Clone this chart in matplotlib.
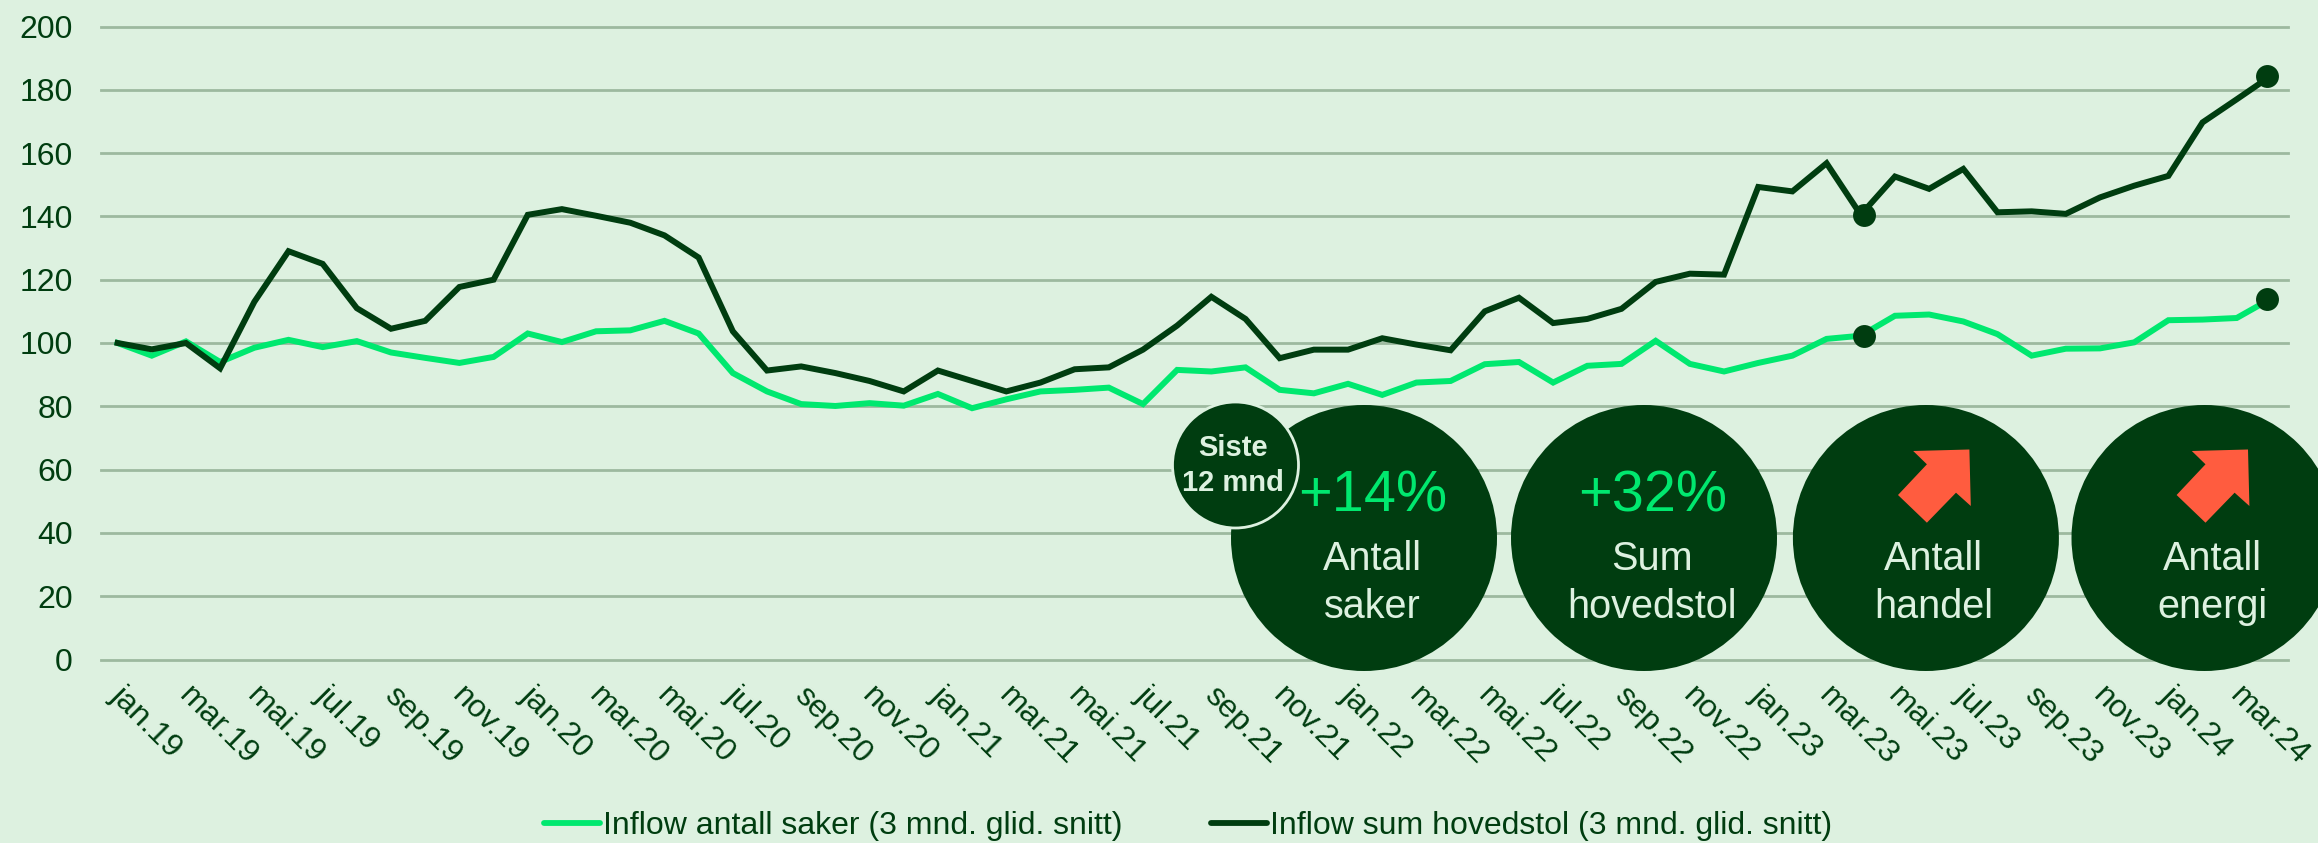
import matplotlib
matplotlib.use('Agg')
import matplotlib.pyplot as plt
from matplotlib.patches import Circle, Polygon
from matplotlib.transforms import ScaledTranslation

plt.rcParams['font.family'] = ['Liberation Sans', 'DejaVu Sans']

BG = '#DDF1E0'
DARK = '#003D10'
LIGHT = '#00E86F'
GRID = '#9DB99F'
ARROW = '#FF5C3F'

months = ['jan', 'feb', 'mar', 'apr', 'mai', 'jun', 'jul', 'aug', 'sep', 'okt', 'nov', 'des']
years = ['19', '20', '21', '22', '23', '24']
dates = [m + '.' + y for y in years for m in months][:64]

antall_saker = [100, 96, 100.5, 94, 98.5, 101, 98.7, 100.6, 97, 95.3, 93.7, 95.6,
                103, 100.3, 103.7, 104, 107, 103, 90.5, 84.7, 80.7, 80.1, 81, 80.2,
                83.9, 79.4, 82.2, 84.7, 85.2, 85.9, 80.7, 91.5, 91, 92.3, 85.2, 84.1,
                87.1, 83.6, 87.5, 88, 93.3, 94, 87.5, 92.8, 93.4, 100.7, 93.4, 91,
                93.7, 96, 101.3, 102.3, 108.6, 109, 106.8, 102.8, 96, 98.2, 98.3, 100.2,
                107.2, 107.4, 107.9, 114]
sum_hovedstol = [100, 98, 100, 92, 113, 129, 125, 111, 104.5, 107, 117.7, 120,
                 140.5, 142.3, 140.2, 138, 134, 127, 103.7, 91.3, 92.6, 90.5, 88, 84.7,
                 91.3, 88, 84.7, 87.5, 91.7, 92.3, 97.9, 105.5, 114.6, 107.6, 95.2, 97.9,
                 97.9, 101.5, 99.5, 97.7, 110, 114.3, 106.3, 107.6, 110.8, 119.3, 121.9, 121.6,
                 149.3, 147.9, 156.8, 140.5, 152.6, 148.7, 155, 141.3, 141.6, 140.8, 146, 149.7,
                 152.8, 169.7, 177, 184.4]
marker_idx = [51, 63]
# the dots sit a little off the month centres in the original
marker_x = [51.1, 62.88]

yticks = list(range(0, 201, 20))
badges = [('+14%', 'Antall\nsaker'), ('+32%', 'Sum\nhovedstol'),
          (None, 'Antall\nhandel'), (None, 'Antall\nenergi')]

W, H = 2318, 843
fig = plt.figure(figsize=(W / 100, H / 100), dpi=100, facecolor=BG)
ax = fig.add_axes([100.5 / W, 1 - 659.5 / H, (2288 - 100.5) / W, (659.5 - 26.5) / H], facecolor=BG)

x = list(range(len(dates)))
l1, = ax.plot(x, antall_saker, color=LIGHT, lw=4.3, solid_joinstyle='miter', label='Inflow antall saker (3 mnd. glid. snitt)')
l2, = ax.plot(x, sum_hovedstol, color=DARK, lw=4.3, solid_joinstyle='miter', label='Inflow sum hovedstol (3 mnd. glid. snitt)')
ax.plot(marker_x, [antall_saker[i] for i in marker_idx], 'o', color=DARK, ms=16.5, mew=0, clip_on=False)
ax.plot(marker_x, [sum_hovedstol[i] for i in marker_idx], 'o', color=DARK, ms=16.5, mew=0, clip_on=False)

ax.set_xlim(-0.5, 63.5)
ax.set_ylim(0, 200)
ax.set_yticks(yticks)
ax.set_xticks(x[::2])
ax.set_xticklabels(dates[::2], rotation=-45, ha='left', va='top', rotation_mode='anchor')
ax.tick_params(axis='both', length=0, labelcolor=DARK)
ax.tick_params(axis='x', pad=15, labelsize=23)
ax.tick_params(axis='y', pad=20, labelsize=23)
ax.grid(axis='y', color=GRID, lw=2, clip_on=False)
ax.set_axisbelow(True)
for s in ax.spines.values():
    s.set_visible(False)
shift = ScaledTranslation(8 / 100, 0, fig.dpi_scale_trans)
for lab in ax.get_xticklabels():
    lab.set_transform(lab.get_transform() + shift)

fig.legend(handles=[l1, l2], loc='center', bbox_to_anchor=(1188 / W, 1 - 826 / H), ncol=2, frameon=False,
           fontsize=23, labelcolor=DARK, handlelength=1.78, handletextpad=0.09, columnspacing=2.75,
           borderpad=0, borderaxespad=0)
for h in fig.legends[0].get_lines():
    h.set_linewidth(4.2)
    h.set_solid_capstyle('round')

# overlay in pixel coordinates for the badges
ov = fig.add_axes([0, 0, 1, 1], facecolor='none')
ov.set_xlim(0, W)
ov.set_ylim(H, 0)
ov.axis('off')

arrow_shape = [(-12.7, 451), (43.5, 449.5), (44.9, 506), (30.1, 492.7), (1, 522.7), (-27.9, 495), (1, 464.3)]
centers = [1364, 1644, 1925.9, 2204.5]
for cx, (pct, name) in zip(centers, badges):
    ov.add_patch(Circle((cx, 538), 133, color=DARK, lw=0))
    if pct:
        ov.text(cx + 9, 511.7, pct, color=LIGHT, fontsize=41.5, ha='center', va='baseline')
    else:
        ov.add_patch(Polygon([(cx + dx, y) for dx, y in arrow_shape], color=ARROW, lw=0))
    ov.text(cx + 8, 618.3, name, color=BG, fontsize=28.5, ha='center', va='baseline', linespacing=1.34)

ov.add_patch(Circle((1235.5, 465), 63, facecolor=DARK, edgecolor=BG, lw=2))
ov.text(1233, 490.7, 'Siste\n12 mnd', color=BG, fontsize=21, fontweight='bold', ha='center', va='baseline', linespacing=1.31)

fig.savefig('out.png', dpi=100, facecolor=BG)
